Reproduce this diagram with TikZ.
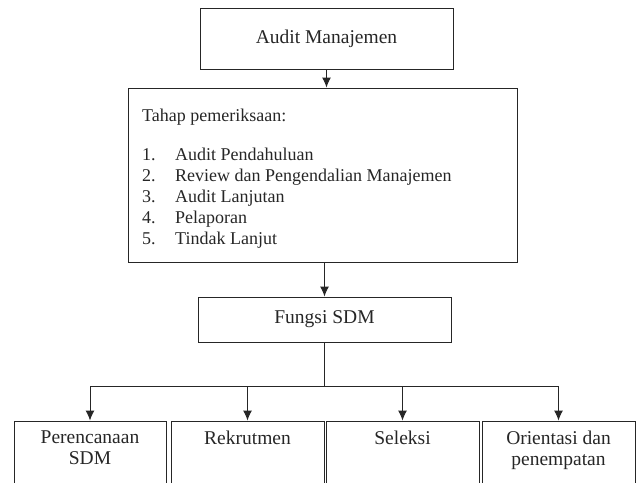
\documentclass[tikz,border=0pt]{standalone}
\usepackage{fontspec}
\setmainfont{Liberation Serif}
\usetikzlibrary{arrows.meta}
\begin{document}
\begin{tikzpicture}[x=1pt,y=-1pt,
  box/.style={draw=black!85, line width=0.95pt, inner sep=0pt},
  arr/.style={draw=black!85, line width=0.95pt, -{Latex[length=10pt,width=9pt]}},
  conn/.style={draw=black!85, line width=0.95pt},
  lbl/.style={font=\fontsize{19.5}{21}\selectfont, text=black!85, inner sep=0pt},
  lst/.style={font=\fontsize{18}{21}\selectfont, text=black!85, inner sep=0pt, anchor=base west},
]
\useasboundingbox (0,0) rectangle (639,482);
\clip (0,0) rectangle (639,482);
% boxes
\node[box, minimum width=253pt, minimum height=61pt] (am) at (326.5,38.5) {};
\node[lbl] (amt) at (am.center) {Audit Manajemen};
\node[box, minimum width=389pt, minimum height=174pt] (tahap) at (322.5,175) {};
\node[box, minimum width=253pt, minimum height=45pt] (fs) at (324.5,319.5) {};
\node[lbl] (fst) at (fs.center) {Fungsi SDM};
% tahap text
\node[lst] (t0) at (142,121) {Tahap pemeriksaan:};
\node[lst] (n1) at (142,160) {1.};
\node[lst] (i1) at (175,160) {Audit Pendahuluan};
\node[lst] (n2) at (142,181) {2.};
\node[lst] (i2) at (175,181) {Review dan Pengendalian Manajemen};
\node[lst] (n3) at (142,202) {3.};
\node[lst] (i3) at (175,202) {Audit Lanjutan};
\node[lst] (n4) at (142,223) {4.};
\node[lst] (i4) at (175,223) {Pelaporan};
\node[lst] (n5) at (142,244) {5.};
\node[lst] (i5) at (175,244) {Tindak Lanjut};
% bottom boxes (clipped by the page)
\node[box, minimum width=152pt, minimum height=80pt] (b1) at (90,461) {};
\node[box, minimum width=153pt, minimum height=80pt] (b2) at (247.5,461) {};
\node[box, minimum width=153pt, minimum height=80pt] (b3) at (402.5,461) {};
\node[box, minimum width=153pt, minimum height=80pt] (b4) at (558.5,461) {};
\node[lbl, align=center, anchor=north] (b1t) at (90,431) {Perencanaan\\SDM};
\node[lbl, anchor=north] (b2t) at (247.5,431) {Rekrutmen};
\node[lbl, anchor=north] (b3t) at (402.5,431) {Seleksi};
\node[lbl, align=center, anchor=north] (b4t) at (558.5,431) {Orientasi dan\\penempatan};
% connectors
\draw[arr] (am.south) -- (am.south |- tahap.north);
\draw[arr] (fs.north |- tahap.south) -- (fs.north);
\coordinate (j) at (fs.south |- 0,386);
\draw[conn] (fs.south) -- (j);
\draw[conn] (b1.north |- j) -- (b4.north |- j);
\draw[arr] (b1.north |- j) -- (b1.north);
\draw[arr] (b2.north |- j) -- (b2.north);
\draw[arr] (b3.north |- j) -- (b3.north);
\draw[arr] (b4.north |- j) -- (b4.north);
\end{tikzpicture}
\end{document}
